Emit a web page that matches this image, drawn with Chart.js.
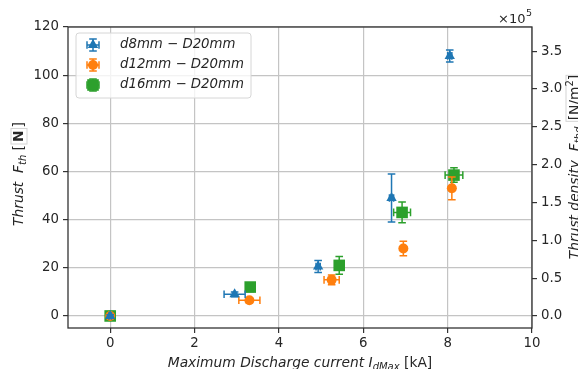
<!DOCTYPE html>
<html><head><meta charset="utf-8">
<script src="https://cdn.jsdelivr.net/npm/chart.js@4.4.1/dist/chart.umd.min.js"></script>
<style>html,body{margin:0;padding:0;background:#fff;} canvas{display:block;}</style>
</head><body>
<canvas id="c" width="578" height="369"></canvas>
<script>
// ---- data ----
const seriesNames = ['d8mm \u2212 D20mm', 'd12mm \u2212 D20mm', 'd16mm \u2212 D20mm'];
const xTicks = [0, 2, 4, 6, 8, 10];
const yTicks = [0, 20, 40, 60, 80, 100, 120];
const y2Ticks = [0, 0.5e5, 1e5, 1.5e5, 2e5, 2.5e5, 3e5, 3.5e5];
const nozzleArea = Math.PI * 0.01 * 0.01; // D20mm, m^2

const d8X    = [0, 2.95, 4.93, 6.67, 8.05];
const d8Y    = [0, 9.0, 20.5, 49.0, 108.0];
const d8XErr = [0.03, 0.25, 0.05, 0.05, 0.05];
const d8YErr = [0.5, 1.0, 2.5, 10.0, 2.5];

const d12X    = [0, 3.30, 5.25, 6.95, 8.10];
const d12Y    = [0, 6.5, 15.0, 28.0, 53.0];
const d12XErr = [0.03, 0.25, 0.18, 0.05, 0.05];
const d12YErr = [0.5, 1.0, 2.0, 3.0, 4.7];

const d16X    = [0, 3.32, 5.43, 6.92, 8.15];
const d16Y    = [0, 12.0, 21.0, 43.0, 58.5];
const d16XErr = [0.03, 0.05, 0.05, 0.20, 0.21];
const d16YErr = [0.5, 1.8, 3.7, 4.3, 3.0];

const colors = ['#1f77b4', '#ff7f0e', '#2ca02c'];
const TXT = '#262626';
const FONT = '"DejaVu Sans"';

function pts(xs, ys) { return xs.map((x, i) => ({ x: x, y: ys[i] })); }

const datasets = [
  { label: seriesNames[0], data: pts(d8X, d8Y), xErr: d8XErr, yErr: d8YErr,
    pointStyle: 'triangle', pointRadius: 6, backgroundColor: colors[0], borderColor: colors[0], borderWidth: 0 },
  { label: seriesNames[1], data: pts(d12X, d12Y), xErr: d12XErr, yErr: d12YErr,
    pointStyle: 'circle', pointRadius: 5, backgroundColor: colors[1], borderColor: colors[1], borderWidth: 0 },
  { label: seriesNames[2], data: pts(d16X, d16Y), xErr: d16XErr, yErr: d16YErr,
    pointStyle: 'rect', pointRadius: 8.2, backgroundColor: colors[2], borderColor: colors[2], borderWidth: 0 }
];

const CAP = 3.8;
function drawErr(ctx, cx, cy, xl, xr, yt, yb) {
  ctx.beginPath();
  ctx.moveTo(xl, cy); ctx.lineTo(xr, cy);
  ctx.moveTo(cx, yt); ctx.lineTo(cx, yb);
  ctx.moveTo(xl, cy - CAP); ctx.lineTo(xl, cy + CAP);
  ctx.moveTo(xr, cy - CAP); ctx.lineTo(xr, cy + CAP);
  ctx.moveTo(cx - CAP, yt); ctx.lineTo(cx + CAP, yt);
  ctx.moveTo(cx - CAP, yb); ctx.lineTo(cx + CAP, yb);
  ctx.stroke();
}

const errorBarPlugin = {
  id: 'errbars',
  beforeDatasetDraw(chart, args) {
    const ds = chart.data.datasets[args.index];
    const xs = chart.scales.x, ys = chart.scales.y, ctx = chart.ctx;
    ctx.save();
    ctx.strokeStyle = ds.borderColor; ctx.lineWidth = 1.5;
    ds.data.forEach((p, i) => {
      drawErr(ctx,
        xs.getPixelForValue(p.x), ys.getPixelForValue(p.y),
        xs.getPixelForValue(p.x - ds.xErr[i]), xs.getPixelForValue(p.x + ds.xErr[i]),
        ys.getPixelForValue(p.y + ds.yErr[i]), ys.getPixelForValue(p.y - ds.yErr[i]));
    });
    ctx.restore();
  }
};

function drawRich(ctx, segs, x, y, rot) {
  ctx.save();
  ctx.translate(x, y); ctx.rotate(rot);
  let W = 0;
  for (const s of segs) { ctx.font = s.font; W += ctx.measureText(s.t).width + (s.padL || 0) + (s.padR || 0); }
  let cx = -W / 2;
  ctx.textAlign = 'left'; ctx.textBaseline = 'alphabetic';
  for (const s of segs) {
    ctx.font = s.font;
    const w = ctx.measureText(s.t).width;
    if (s.box) {
      ctx.strokeStyle = '#d4d4d4'; ctx.lineWidth = 1;
      ctx.strokeRect(cx + 1, -s.box[0], s.box[2] || (w + (s.padL || 0) + (s.padR || 0) - 2), s.box[0] + s.box[1]);
    }
    cx += s.padL || 0;
    ctx.fillStyle = TXT;
    ctx.fillText(s.t, cx, s.dy || 0);
    cx += w + (s.padR || 0);
  }
  ctx.restore();
}

const decorPlugin = {
  id: 'decor',
  afterDraw(chart) {
    const ctx = chart.ctx, a = chart.chartArea;
    // spines
    ctx.save();
    ctx.strokeStyle = '#333'; ctx.lineWidth = 1.3;
    ctx.strokeRect(a.left, a.top, a.right - a.left, a.bottom - a.top);
    ctx.restore();

    const it = 'italic 13.8px ' + FONT, itS = 'italic 10px ' + FONT, rg = '13.8px ' + FONT, bd = 'bold 13.8px ' + FONT;
    // x title
    drawRich(ctx, [
      { t: 'Maximum Discharge current I', font: it },
      { t: 'dMax', font: itS, dy: 2.5 },
      { t: ' [kA]', font: rg }
    ], (a.left + a.right) / 2, 367, 0);
    // left title
    drawRich(ctx, [
      { t: 'Thrust  F', font: it },
      { t: 'th', font: itS, dy: 2.5 },
      { t: ' [', font: rg },
      { t: 'N', font: bd, padL: 3, padR: 3, box: [12, 4] },
      { t: ']', font: rg }
    ], 23, 174, -Math.PI / 2);
    // right title
    drawRich(ctx, [
      { t: 'Thrust density  F', font: it },
      { t: 'thd', font: itS, dy: 2.5 },
      { t: ' ', font: rg },
      { t: '[N/m', font: rg, padL: 2, box: [13, 4, 46] },
      { t: '2', font: '10px ' + FONT, dy: -6 },
      { t: ']', font: rg, padR: 2 }
    ], 579, 166, -Math.PI / 2);
    // offset text
    ctx.save();
    ctx.fillStyle = TXT; ctx.textBaseline = 'alphabetic'; ctx.textAlign = 'left';
    ctx.font = '13px ' + FONT; ctx.fillText('\u00d710', 498, 23);
    const w = ctx.measureText('\u00d710').width;
    ctx.font = '9.5px ' + FONT; ctx.fillText('5', 498 + w + 0.5, 16);
    ctx.restore();

    // legend
    ctx.save();
    const L = 76, T = 33, R = 251, B = 98, r = 3;
    ctx.beginPath();
    ctx.moveTo(L + r, T); ctx.lineTo(R - r, T); ctx.quadraticCurveTo(R, T, R, T + r);
    ctx.lineTo(R, B - r); ctx.quadraticCurveTo(R, B, R - r, B);
    ctx.lineTo(L + r, B); ctx.quadraticCurveTo(L, B, L, B - r);
    ctx.lineTo(L, T + r); ctx.quadraticCurveTo(L, T, L + r, T);
    ctx.closePath();
    ctx.fillStyle = 'rgba(255,255,255,0.8)'; ctx.fill();
    ctx.strokeStyle = '#d6d6d6'; ctx.lineWidth = 1; ctx.stroke();
    const rows = [45, 65, 85];
    chart.data.datasets.forEach((ds, i) => {
      const hx = 93, hy = rows[i];
      ctx.strokeStyle = ds.borderColor; ctx.lineWidth = 1.5;
      drawErr(ctx, hx, hy, hx - 6, hx + 6, hy - 6, hy + 6);
      ctx.fillStyle = ds.backgroundColor;
      ctx.beginPath();
      if (ds.pointStyle === 'triangle') {
        const rr = ds.pointRadius;
        ctx.moveTo(hx, hy - rr); ctx.lineTo(hx + rr * 0.866, hy + rr / 2); ctx.lineTo(hx - rr * 0.866, hy + rr / 2);
        ctx.closePath();
      } else if (ds.pointStyle === 'circle') {
        ctx.arc(hx, hy, ds.pointRadius, 0, Math.PI * 2);
      } else {
        const h = ds.pointRadius * Math.SQRT1_2;
        ctx.rect(hx - h, hy - h, 2 * h, 2 * h);
      }
      ctx.fill();
      ctx.fillStyle = TXT; ctx.font = 'italic 13.3px ' + FONT; ctx.textBaseline = 'middle';
      ctx.fillText(ds.label, 120, hy);
    });
    ctx.restore();
  }
};

const gridCommon = { color: '#c4c4c4', lineWidth: 1.2, tickColor: '#333', tickLength: 5, tickWidth: 1.2 };
const tickFont = { family: FONT, size: 13.3 };

new Chart(document.getElementById('c'), {
  type: 'scatter',
  data: { datasets: datasets },
  options: {
    responsive: false, animation: false, devicePixelRatio: 1,
    layout: { padding: { top: 27, left: 0, right: 0, bottom: 0 } },
    plugins: { legend: { display: false }, tooltip: { enabled: false } },
    scales: {
      x: {
        type: 'linear', position: 'bottom', min: -1, max: 10,
        afterBuildTicks: s => { s.ticks = xTicks.map(v => ({ value: v })); },
        afterFit: s => { s.height = 41; },
        grid: gridCommon, border: { display: false },
        ticks: { color: TXT, font: tickFont, padding: 3, maxRotation: 0, autoSkip: false }
      },
      y: {
        type: 'linear', position: 'left', min: -5, max: 120,
        afterBuildTicks: s => { s.ticks = yTicks.map(v => ({ value: v })); },
        afterFit: s => { s.width = 68; },
        grid: gridCommon, border: { display: false },
        ticks: { color: TXT, font: tickFont, padding: 4, autoSkip: false }
      },
      y2: {
        type: 'linear', position: 'right', min: -5 / nozzleArea, max: 120 / nozzleArea,
        afterBuildTicks: s => { s.ticks = y2Ticks.map(v => ({ value: v })); },
        afterFit: s => { s.width = 46; },
        grid: Object.assign({}, gridCommon, { drawOnChartArea: false }), border: { display: false },
        ticks: { color: TXT, font: tickFont, padding: 4, autoSkip: false, callback: v => (v / 1e5).toFixed(1) }
      }
    }
  },
  plugins: [errorBarPlugin, decorPlugin]
});
</script>
</body></html>
